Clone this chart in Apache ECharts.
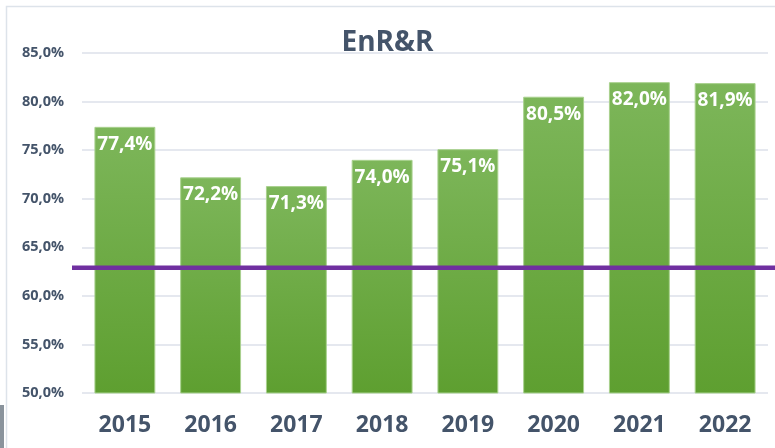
<!DOCTYPE html>
<html>
<head>
<meta charset="utf-8">
<script src="https://cdn.jsdelivr.net/npm/echarts@6/dist/echarts.min.js"></script>
<style>html,body{margin:0;padding:0;background:#fff;}#c{width:775px;height:448px;}</style>
</head>
<body>
<div id="c"></div>
<script>
var categories = ['2015','2016','2017','2018','2019','2020','2021','2022'];
var values = [77.4, 72.2, 71.3, 74.0, 75.1, 80.5, 82.0, 81.9];
var targetValue = 62.9;
var yTicks = [50, 55, 60, 65, 70, 75, 80, 85];
var title = 'EnR&R';

function pct(v){ return v.toFixed(1).replace('.', ',') + '%'; }

var chart = echarts.init(document.getElementById('c'));
chart.setOption({
  animation: false,
  backgroundColor: '#fff',
  title: {
    text: title, left: 'center', top: 24,
    textStyle: { fontFamily: 'Open Sans', fontWeight: 'bold', fontSize: 28, color: '#44546A' }
  },
  graphic: [
    { type: 'rect', shape: { x: 6.5, y: 6.5, width: 800, height: 460 }, style: { fill: 'none', stroke: '#DDE3EA', lineWidth: 1.5 }, silent: true },
    { type: 'rect', shape: { x: 0, y: 405, width: 4, height: 43 }, style: { fill: '#8A939C' }, silent: true }
  ],
  grid: [
    { left: 82, right: 7, top: 53, bottom: 55 },
    { left: 72, right: 0, top: 53, bottom: 55 }
  ],
  xAxis: [
    {
      type: 'category', data: categories, gridIndex: 0,
      axisLine: { show: false }, axisTick: { show: false },
      axisLabel: { margin: 21, fontFamily: 'Open Sans', fontWeight: 'bold', fontSize: 23, color: '#44546A' }
    },
    { type: 'value', gridIndex: 1, min: 0, max: 1, show: false }
  ],
  yAxis: [
    {
      type: 'value', gridIndex: 0, min: yTicks[0], max: yTicks[yTicks.length-1], interval: 5,
      axisLine: { show: false }, axisTick: { show: false },
      splitLine: { lineStyle: { color: '#DCE1EA', width: 1.5 } },
      axisLabel: { margin: 18, fontFamily: 'Open Sans', fontWeight: 'bold', fontSize: 14.5, color: '#44546A', formatter: function(v){ return pct(v); } }
    },
    { type: 'value', gridIndex: 1, min: yTicks[0], max: yTicks[yTicks.length-1], show: false }
  ],
  series: [
    {
      type: 'bar', xAxisIndex: 0, yAxisIndex: 0, data: values, barWidth: '71%',
      itemStyle: {
        color: new echarts.graphic.LinearGradient(0, 0, 0, 1, [
          { offset: 0, color: '#7DB65A' }, { offset: 1, color: '#5E9F30' }
        ]),
        borderColor: '#A9D18E', borderWidth: 1
      },
      label: {
        show: true, position: 'insideTop', distance: 8,
        formatter: function(p){ return pct(p.value); },
        fontFamily: 'Open Sans', fontWeight: 'bold', fontSize: 19, color: '#fff'
      }
    },
    {
      type: 'line', xAxisIndex: 1, yAxisIndex: 1,
      data: [[0, targetValue], [1, targetValue]],
      symbol: 'none', lineStyle: { color: '#7030A0', width: 4.5 }, z: 5
    }
  ]
});
</script>
</body>
</html>
